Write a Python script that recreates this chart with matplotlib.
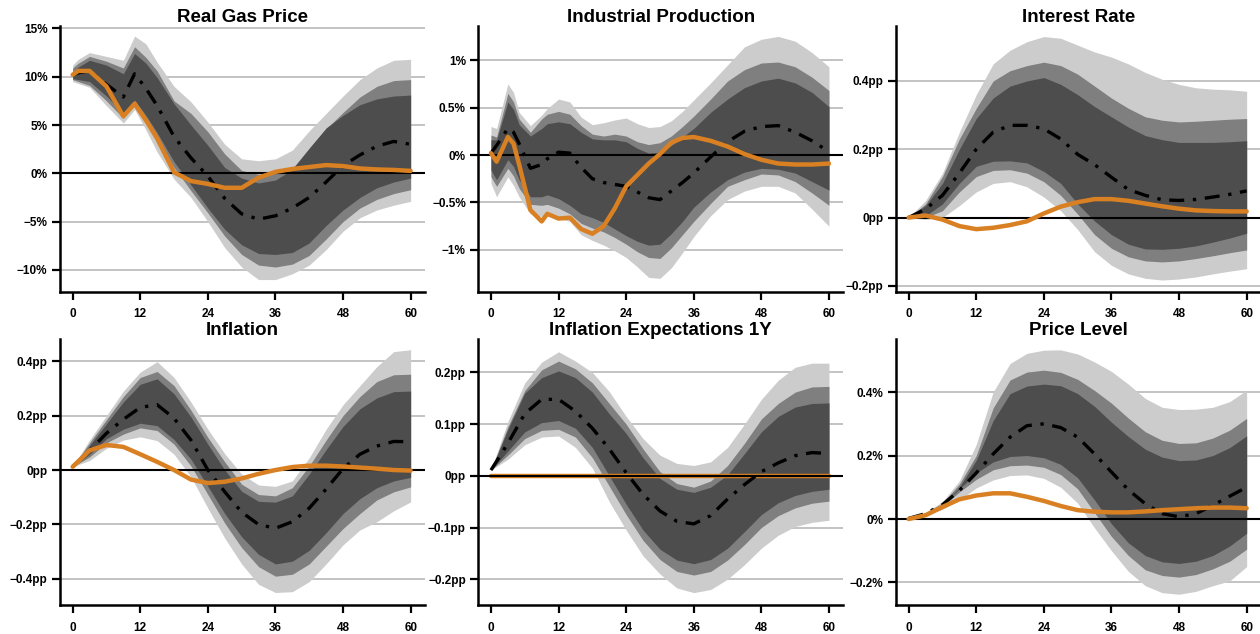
import matplotlib
matplotlib.use("Agg")
import matplotlib.pyplot as plt

plt.rcParams['font.family'] = ['Liberation Sans', 'DejaVu Sans']

# --- Real Gas Price (%) ---
gas_months = [0, 1, 3, 6, 9, 11, 13, 15, 18, 21, 24, 27, 30, 33, 36, 39, 42, 45, 48, 51, 54, 57, 60]
gas_median = [10.2, 10.4, 10.6, 9.2, 7.9, 10.3, 8.8, 7.0, 3.8, 1.6, -0.3, -2.6, -4.2, -4.75, -4.4, -3.6, -2.5, -0.9, 0.8, 1.9, 2.8, 3.3, 3.0]
gas_orange = [10.2, 10.6, 10.6, 9.0, 5.9, 7.2, 5.5, 3.6, 0.1, -0.8, -1.1, -1.5, -1.5, -0.45, 0.15, 0.45, 0.65, 0.85, 0.75, 0.5, 0.4, 0.35, 0.25]
gas_hi90 = [11.2, 11.8, 12.5, 12.1, 11.7, 14.2, 13.4, 11.5, 9.0, 7.4, 5.3, 3.0, 1.5, 1.3, 1.5, 2.4, 4.4, 6.2, 8.0, 9.7, 10.9, 11.7, 11.8]
gas_lo90 = [9.5, 9.3, 8.9, 7.0, 5.2, 6.6, 4.5, 2.2, -0.6, -2.5, -5.0, -7.7, -9.7, -11.0, -11.0, -10.4, -9.5, -7.9, -6.0, -4.6, -3.8, -3.3, -2.9]
gas_hi80 = [10.9, 11.4, 12.1, 11.6, 10.9, 13.1, 12.0, 10.6, 7.5, 6.2, 4.3, 2.0, 0.3, -0.1, 0.0, 0.5, 2.6, 4.6, 6.3, 7.9, 9.0, 9.6, 9.7]
gas_lo80 = [9.7, 9.5, 9.1, 7.5, 5.7, 7.2, 5.6, 3.5, 0.6, -1.8, -4.1, -6.5, -8.4, -9.5, -9.7, -9.4, -8.5, -6.8, -5.0, -3.6, -2.7, -2.1, -1.7]
gas_hi68 = [10.5, 11.0, 11.7, 11.2, 10.3, 12.4, 11.4, 9.9, 7.2, 5.0, 2.9, 0.6, -0.5, -1.0, -0.7, 0.4, 2.6, 4.7, 6.0, 7.1, 7.7, 8.0, 8.1]
gas_lo68 = [9.8, 9.7, 9.5, 8.0, 6.2, 7.6, 6.0, 4.2, 1.2, -1.2, -3.6, -5.8, -7.4, -8.3, -8.4, -8.2, -7.2, -5.4, -3.8, -2.5, -1.5, -0.9, -0.5]

# --- Industrial Production (%) ---
ip_months = [0, 1, 3, 4, 5, 7, 9, 10, 12, 14, 16, 18, 20, 22, 24, 26, 28, 30, 32, 34, 36, 39, 42, 45, 48, 51, 54, 57, 60]
ip_median = [0.02, 0.10, 0.28, 0.24, 0.12, -0.14, -0.10, -0.04, 0.03, 0.02, -0.13, -0.25, -0.29, -0.31, -0.33, -0.39, -0.45, -0.47, -0.38, -0.29, -0.19, -0.02, 0.14, 0.25, 0.30, 0.31, 0.24, 0.15, 0.035]
ip_orange = [0.02, -0.07, 0.19, 0.12, -0.10, -0.58, -0.70, -0.62, -0.67, -0.66, -0.78, -0.83, -0.75, -0.56, -0.33, -0.21, -0.09, 0.01, 0.13, 0.18, 0.19, 0.15, 0.09, 0.01, -0.05, -0.09, -0.10, -0.10, -0.09]
ip_hi90 = [0.30, 0.28, 0.75, 0.66, 0.45, 0.31, 0.42, 0.49, 0.59, 0.56, 0.40, 0.32, 0.34, 0.37, 0.39, 0.33, 0.29, 0.30, 0.36, 0.46, 0.58, 0.76, 0.95, 1.14, 1.22, 1.25, 1.20, 1.08, 0.93]
ip_lo90 = [-0.30, -0.44, -0.23, -0.32, -0.44, -0.62, -0.65, -0.64, -0.67, -0.70, -0.84, -0.90, -0.95, -1.01, -1.08, -1.18, -1.29, -1.30, -1.19, -1.03, -0.86, -0.64, -0.47, -0.38, -0.33, -0.33, -0.40, -0.57, -0.75]
ip_hi80 = [0.21, 0.19, 0.65, 0.56, 0.38, 0.24, 0.38, 0.43, 0.46, 0.43, 0.31, 0.22, 0.20, 0.22, 0.20, 0.14, 0.11, 0.13, 0.20, 0.30, 0.41, 0.59, 0.78, 0.90, 0.97, 0.98, 0.93, 0.82, 0.68]
ip_lo80 = [-0.23, -0.33, -0.14, -0.22, -0.35, -0.52, -0.53, -0.52, -0.56, -0.62, -0.72, -0.77, -0.81, -0.87, -0.94, -1.02, -1.08, -1.09, -0.98, -0.84, -0.70, -0.51, -0.33, -0.26, -0.20, -0.21, -0.28, -0.40, -0.53]
ip_hi68 = [0.16, 0.16, 0.56, 0.48, 0.32, 0.20, 0.28, 0.33, 0.35, 0.33, 0.24, 0.17, 0.16, 0.16, 0.14, 0.07, 0.02, 0.03, 0.10, 0.19, 0.28, 0.45, 0.59, 0.71, 0.78, 0.81, 0.76, 0.66, 0.51]
ip_lo68 = [-0.16, -0.26, -0.05, -0.12, -0.26, -0.44, -0.44, -0.42, -0.46, -0.53, -0.62, -0.66, -0.71, -0.78, -0.85, -0.91, -0.95, -0.94, -0.83, -0.70, -0.55, -0.39, -0.26, -0.18, -0.14, -0.15, -0.19, -0.28, -0.37]

# horizon grid shared by the smooth panels
months = [0, 3, 6, 9, 12, 15, 18, 21, 24, 27, 30, 33, 36, 39, 42, 45, 48, 51, 54, 57, 60]

# --- Interest Rate (pp) ---
ir_median = [0.0, 0.025, 0.065, 0.13, 0.20, 0.25, 0.27, 0.27, 0.26, 0.23, 0.185, 0.155, 0.118, 0.082, 0.065, 0.052, 0.05, 0.053, 0.06, 0.068, 0.078]
ir_orange = [0.0, 0.006, -0.006, -0.025, -0.034, -0.03, -0.022, -0.011, 0.012, 0.032, 0.045, 0.054, 0.054, 0.049, 0.041, 0.033, 0.026, 0.021, 0.019, 0.018, 0.018]
ir_hi90 = [0.0, 0.05, 0.13, 0.25, 0.36, 0.45, 0.49, 0.515, 0.53, 0.525, 0.505, 0.485, 0.47, 0.45, 0.425, 0.405, 0.39, 0.38, 0.376, 0.374, 0.37]
ir_lo90 = [0.0, -0.005, 0.0, 0.035, 0.075, 0.10, 0.105, 0.09, 0.06, 0.02, -0.035, -0.10, -0.14, -0.165, -0.178, -0.183, -0.18, -0.174, -0.165, -0.157, -0.15]
ir_hi80 = [0.0, 0.04, 0.12, 0.23, 0.32, 0.40, 0.43, 0.445, 0.455, 0.445, 0.42, 0.385, 0.35, 0.32, 0.295, 0.285, 0.28, 0.282, 0.285, 0.288, 0.29]
ir_lo80 = [0.0, 0.0, 0.02, 0.075, 0.12, 0.138, 0.14, 0.13, 0.105, 0.065, 0.01, -0.05, -0.09, -0.115, -0.127, -0.13, -0.127, -0.12, -0.112, -0.103, -0.095]
ir_hi68 = [0.0, 0.035, 0.10, 0.20, 0.29, 0.35, 0.385, 0.40, 0.41, 0.39, 0.36, 0.325, 0.295, 0.265, 0.24, 0.228, 0.22, 0.22, 0.22, 0.222, 0.225]
ir_lo68 = [0.0, 0.005, 0.04, 0.10, 0.15, 0.165, 0.166, 0.16, 0.135, 0.10, 0.04, -0.01, -0.05, -0.078, -0.092, -0.093, -0.09, -0.083, -0.072, -0.06, -0.046]

# --- Inflation (pp) ---
inf_median = [0.012, 0.07, 0.135, 0.186, 0.23, 0.24, 0.19, 0.11, 0.0, -0.08, -0.155, -0.2, -0.214, -0.19, -0.14, -0.07, 0.005, 0.058, 0.088, 0.105, 0.104]
inf_orange = [0.012, 0.072, 0.092, 0.085, 0.058, 0.03, 0.0, -0.035, -0.048, -0.043, -0.031, -0.014, 0.0, 0.011, 0.016, 0.016, 0.013, 0.009, 0.005, 0.0, -0.002]
inf_hi90 = [0.012, 0.11, 0.2, 0.29, 0.36, 0.398, 0.34, 0.25, 0.15, 0.06, -0.015, -0.055, -0.06, -0.04, 0.045, 0.15, 0.24, 0.31, 0.38, 0.435, 0.442]
inf_lo90 = [0.012, 0.035, 0.08, 0.11, 0.122, 0.108, 0.058, -0.025, -0.14, -0.25, -0.345, -0.42, -0.45, -0.447, -0.41, -0.345, -0.275, -0.22, -0.19, -0.15, -0.117]
inf_hi80 = [0.012, 0.10, 0.185, 0.27, 0.34, 0.362, 0.31, 0.22, 0.12, 0.03, -0.052, -0.09, -0.095, -0.065, 0.015, 0.11, 0.2, 0.27, 0.325, 0.35, 0.352]
inf_lo80 = [0.012, 0.048, 0.10, 0.132, 0.155, 0.145, 0.095, 0.015, -0.09, -0.195, -0.285, -0.355, -0.39, -0.383, -0.345, -0.28, -0.215, -0.16, -0.11, -0.08, -0.062]
inf_hi68 = [0.012, 0.09, 0.17, 0.25, 0.315, 0.335, 0.28, 0.195, 0.095, 0.0, -0.078, -0.115, -0.118, -0.095, -0.015, 0.075, 0.16, 0.225, 0.265, 0.288, 0.29]
inf_lo68 = [0.012, 0.058, 0.115, 0.15, 0.172, 0.163, 0.112, 0.04, -0.06, -0.16, -0.245, -0.31, -0.345, -0.335, -0.295, -0.23, -0.16, -0.105, -0.065, -0.04, -0.027]

# --- Inflation Expectations 1Y (pp) ---
ie_median = [0.011, 0.063, 0.12, 0.148, 0.148, 0.125, 0.092, 0.052, 0.006, -0.036, -0.068, -0.088, -0.093, -0.077, -0.045, -0.017, 0.008, 0.025, 0.039, 0.045, 0.043]
ie_orange = [0.0, 0.0, 0.0, 0.0, 0.0, 0.0, 0.0, 0.0, 0.0, 0.0, 0.0, 0.0, 0.0, 0.0, 0.0, 0.0, 0.0, 0.0, 0.0, 0.0, 0.0]
ie_hi90 = [0.011, 0.105, 0.18, 0.22, 0.24, 0.222, 0.2, 0.163, 0.115, 0.072, 0.04, 0.024, 0.02, 0.027, 0.055, 0.10, 0.148, 0.185, 0.21, 0.218, 0.218]
ie_lo90 = [0.011, 0.032, 0.06, 0.075, 0.077, 0.055, 0.015, -0.05, -0.105, -0.155, -0.19, -0.217, -0.226, -0.22, -0.2, -0.172, -0.14, -0.115, -0.098, -0.09, -0.086]
ie_hi80 = [0.011, 0.095, 0.165, 0.205, 0.222, 0.207, 0.18, 0.14, 0.10, 0.052, 0.008, -0.015, -0.022, -0.01, 0.02, 0.063, 0.11, 0.14, 0.162, 0.172, 0.173]
ie_lo80 = [0.011, 0.04, 0.072, 0.088, 0.09, 0.075, 0.035, -0.02, -0.075, -0.125, -0.162, -0.185, -0.192, -0.185, -0.163, -0.133, -0.10, -0.077, -0.062, -0.053, -0.049]
ie_hi68 = [0.011, 0.09, 0.16, 0.19, 0.203, 0.19, 0.162, 0.12, 0.082, 0.035, -0.005, -0.026, -0.032, -0.022, 0.002, 0.043, 0.085, 0.115, 0.133, 0.14, 0.141]
ie_lo68 = [0.011, 0.048, 0.085, 0.103, 0.107, 0.092, 0.055, 0.0, -0.055, -0.105, -0.142, -0.163, -0.17, -0.162, -0.14, -0.108, -0.075, -0.052, -0.038, -0.03, -0.026]

# --- Price Level (%) ---
pl_median = [0.002, 0.017, 0.045, 0.09, 0.145, 0.205, 0.258, 0.294, 0.3, 0.288, 0.258, 0.205, 0.148, 0.092, 0.048, 0.017, 0.007, 0.017, 0.043, 0.072, 0.1]
pl_orange = [0.0, 0.012, 0.038, 0.062, 0.074, 0.081, 0.081, 0.07, 0.057, 0.041, 0.028, 0.023, 0.021, 0.021, 0.024, 0.028, 0.031, 0.034, 0.036, 0.036, 0.034]
pl_hi90 = [0.002, 0.02, 0.055, 0.12, 0.235, 0.40, 0.49, 0.522, 0.532, 0.533, 0.52, 0.495, 0.465, 0.425, 0.38, 0.352, 0.345, 0.346, 0.352, 0.37, 0.406]
pl_lo90 = [0.002, 0.012, 0.03, 0.06, 0.098, 0.123, 0.137, 0.139, 0.128, 0.10, 0.05, -0.028, -0.10, -0.165, -0.21, -0.232, -0.237, -0.228, -0.21, -0.195, -0.15]
pl_hi80 = [0.002, 0.018, 0.05, 0.11, 0.2, 0.35, 0.438, 0.463, 0.469, 0.462, 0.44, 0.405, 0.365, 0.318, 0.275, 0.248, 0.238, 0.24, 0.255, 0.28, 0.317]
pl_lo80 = [0.002, 0.014, 0.04, 0.085, 0.125, 0.155, 0.168, 0.17, 0.163, 0.14, 0.095, 0.02, -0.055, -0.115, -0.16, -0.178, -0.183, -0.175, -0.157, -0.133, -0.095]
pl_hi68 = [0.002, 0.016, 0.045, 0.10, 0.185, 0.31, 0.395, 0.419, 0.425, 0.42, 0.395, 0.355, 0.305, 0.26, 0.22, 0.195, 0.184, 0.186, 0.2, 0.225, 0.262]
pl_lo68 = [0.002, 0.015, 0.045, 0.095, 0.145, 0.18, 0.197, 0.2, 0.193, 0.172, 0.13, 0.06, -0.015, -0.075, -0.115, -0.135, -0.14, -0.133, -0.115, -0.085, -0.045]

titles = ["Real Gas Price", "Industrial Production", "Interest Rate",
          "Inflation", "Inflation Expectations 1Y", "Price Level"]
xticks = [0, 12, 24, 36, 48, 60]

gas_yticks = [-10, -5, 0, 5, 10, 15]
gas_ylabels = ["\u221210%", "\u22125%", "0%", "5%", "10%", "15%"]
ip_yticks = [-1, -0.5, 0, 0.5, 1]
ip_ylabels = ["\u22121%", "\u22120.5%", "0%", "0.5%", "1%"]
ir_yticks = [-0.2, 0, 0.2, 0.4]
ir_ylabels = ["\u22120.2pp", "0pp", "0.2pp", "0.4pp"]
inf_yticks = [-0.4, -0.2, 0, 0.2, 0.4]
inf_ylabels = ["\u22120.4pp", "\u22120.2pp", "0pp", "0.2pp", "0.4pp"]
ie_yticks = [-0.2, -0.1, 0, 0.1, 0.2]
ie_ylabels = ["\u22120.2pp", "\u22120.1pp", "0pp", "0.1pp", "0.2pp"]
pl_yticks = [-0.2, 0, 0.2, 0.4]
pl_ylabels = ["\u22120.2%", "0%", "0.2%", "0.4%"]

LIGHT, MID, DARK = "#cccccc", "#7f7f7f", "#4d4d4d"
ORANGE = "#d98023"

panels = [
    (gas_months, gas_median, gas_orange, gas_lo90, gas_hi90, gas_lo80, gas_hi80, gas_lo68, gas_hi68,
     (-12.25, 15.25), gas_yticks, gas_ylabels),
    (ip_months, ip_median, ip_orange, ip_lo90, ip_hi90, ip_lo80, ip_hi80, ip_lo68, ip_hi68,
     (-1.44, 1.36), ip_yticks, ip_ylabels),
    (months, ir_median, ir_orange, ir_lo90, ir_hi90, ir_lo80, ir_hi80, ir_lo68, ir_hi68,
     (-0.217, 0.561), ir_yticks, ir_ylabels),
    (months, inf_median, inf_orange, inf_lo90, inf_hi90, inf_lo80, inf_hi80, inf_lo68, inf_hi68,
     (-0.496, 0.48), inf_yticks, inf_ylabels),
    (months, ie_median, ie_orange, ie_lo90, ie_hi90, ie_lo80, ie_hi80, ie_lo68, ie_hi68,
     (-0.25, 0.264), ie_yticks, ie_ylabels),
    (months, pl_median, pl_orange, pl_lo90, pl_hi90, pl_lo80, pl_hi80, pl_lo68, pl_hi68,
     (-0.271, 0.566), pl_yticks, pl_ylabels),
]

fig = plt.figure(figsize=(12.6, 6.34), dpi=100)
lefts = [0.0476, 0.3796, 0.7111]
bottoms = [0.540, 0.0457]

for i, p in enumerate(panels):
    x, med, orange, lo90, hi90, lo80, hi80, lo68, hi68, ylim, yt, ylab = p
    ax = fig.add_axes([lefts[i % 3], bottoms[i // 3], 0.2897, 0.419])

    for t in yt:
        if t != 0:
            ax.axhline(t, color="#b3b3b3", lw=1.1, zorder=0)

    ax.fill_between(x, lo90, hi90, color=LIGHT, lw=0, zorder=1)
    ax.fill_between(x, lo80, hi80, color=MID, lw=0, zorder=1.1)
    ax.fill_between(x, lo68, hi68, color=DARK, lw=0, zorder=1.2)

    ax.plot(x, med, color="black", lw=2.4, dashes=(4.5, 2.6, 1.0, 2.6),
            dash_joinstyle="round", zorder=3)

    # in the expectations panel the zero line sits over the flat orange line
    oz = 2.5 if i == 4 else 5
    ax.plot(x, orange, color=ORANGE, lw=3.2, solid_capstyle="round",
            solid_joinstyle="round", zorder=oz)
    ax.axhline(0, color="black", lw=1.5, zorder=4)

    ax.set_xlim(-2.25, 62.55)
    ax.set_ylim(*ylim)
    ax.set_xticks(xticks)
    ax.set_xticklabels([str(v) for v in xticks], fontsize=8.5, fontweight="bold")
    ax.set_yticks(yt)
    ax.set_yticklabels(ylab, fontsize=8.5, fontweight="bold")
    ax.tick_params(axis="x", length=6, width=1.6, pad=6)
    ax.tick_params(axis="y", length=6, width=1.6, pad=3)

    for s in ["top", "right"]:
        ax.spines[s].set_visible(False)
    for s in ["left", "bottom"]:
        ax.spines[s].set_linewidth(1.8)

    ax.set_title(titles[i], fontsize=13.5, fontweight="bold", pad=3)

fig.savefig("out.png", dpi=100)
